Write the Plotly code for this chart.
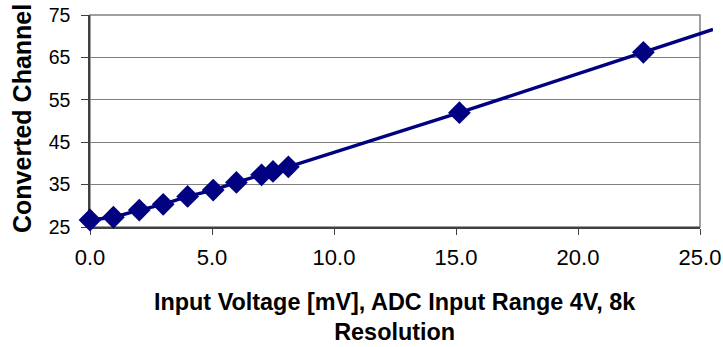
import plotly.graph_objects as go

# Data
voltage_mv = [0.0, 0.96, 2.02, 3.0, 4.0, 5.05, 6.0, 7.03, 7.5, 8.13, 15.14, 22.68]
channel = [26.65, 27.3, 29.0, 30.35, 32.2, 33.7, 35.5, 37.3, 38.1, 39.2, 51.96, 66.2]
x_ticks = [0, 5, 10, 15, 20, 25]
x_tick_labels = ["0.0", "5.0", "10.0", "15.0", "20.0", "25.0"]
y_ticks = [25, 35, 45, 55, 65, 75]

NAVY = "#000080"
FONT = "Liberation Sans, Arial, sans-serif"

W, H = 723, 347
L, R, T, B = 90, 10, 15, 120
full_w = W - L - R          # 623 px, the line may run a bit past the frame
plot_w = 610                # frame width
frac = plot_w / full_w
x_max = 25.0
x_ext = x_max / frac
plot_h = H - T - B

# extend the line past the last point with the slope of the last segment
slope = (channel[-1] - channel[-2]) / (voltage_mv[-1] - voltage_mv[-2])
line_x = voltage_mv + [x_ext]
line_y = channel + [channel[-1] + slope * (x_ext - voltage_mv[-1])]

fig = go.Figure()

# subplot 1: grid/axes only (invisible helper trace)
fig.add_trace(go.Scatter(x=[voltage_mv[0]], y=[channel[0]], mode="markers",
                         marker=dict(opacity=0), hoverinfo="skip",
                         xaxis="x", yaxis="y", showlegend=False))
# subplot 2: line (may run past the frame)
fig.add_trace(go.Scatter(x=line_x, y=line_y, mode="lines",
                         line=dict(color=NAVY, width=3.4),
                         xaxis="x2", yaxis="y2", showlegend=False))
# subplot 3: markers on top
fig.add_trace(go.Scatter(x=voltage_mv, y=channel, mode="markers",
                         marker=dict(symbol="diamond", size=17.5, color=NAVY,
                                     line=dict(width=0)),
                         cliponaxis=False,
                         xaxis="x3", yaxis="y3", showlegend=False))

fig.update_layout(
    width=W, height=H,
    margin=dict(l=L, r=R, t=T, b=B, autoexpand=False),
    paper_bgcolor="white",
    plot_bgcolor="rgba(0,0,0,0)",
    showlegend=False,
    font=dict(family=FONT, color="black"),
    xaxis=dict(domain=[0, frac], range=[0, x_max], tickmode="array",
               tickvals=x_ticks, ticktext=x_tick_labels,
               ticks="outside", ticklen=6, tickcolor="#404040", tickwidth=1,
               showline=True, linecolor="#404040", linewidth=1.5,
               showgrid=False, zeroline=False, automargin=False,
               ticklabelstandoff=4,
               tickfont=dict(size=22, family=FONT, color="black"),
               anchor="y", fixedrange=True),
    yaxis=dict(domain=[0, 1], range=[25, 75], tickmode="array",
               tickvals=y_ticks,
               ticks="outside", ticklen=7, tickcolor="#404040", tickwidth=1,
               showline=True, linecolor="#404040", linewidth=1.5,
               showgrid=True, gridcolor="#7f7f7f", gridwidth=1,
               zeroline=False, automargin=False,
               ticklabelstandoff=7,
               tickfont=dict(size=19.5, family=FONT, color="black"),
               anchor="x", fixedrange=True),
    xaxis2=dict(domain=[0, 1], range=[0, x_ext], visible=False, anchor="y2",
                automargin=False),
    yaxis2=dict(domain=[0, 1], range=[25, 75], visible=False, anchor="x2",
                automargin=False),
    xaxis3=dict(domain=[0, frac], range=[0, x_max], visible=False, anchor="y3",
                automargin=False),
    yaxis3=dict(domain=[0, 1], range=[25, 75], visible=False, anchor="x3",
                automargin=False),
    shapes=[dict(type="rect", xref="x domain", yref="y domain",
                 x0=0, x1=1, y0=0, y1=1,
                 line=dict(color="#808080", width=1.5), layer="below")],
    annotations=[
        dict(text="<b>Converted Channel</b>", textangle=-90,
             xref="paper", yref="paper",
             x=(22 - L) / full_w, y=(T + plot_h - 119) / plot_h,
             xanchor="center", yanchor="middle",
             showarrow=False, font=dict(size=25, family=FONT, color="black")),
        dict(text="<b>Input Voltage [mV], ADC Input Range 4V, 8k<br>Resolution</b>",
             xref="paper", yref="paper",
             x=frac / 2, y=-(317 - (T + plot_h)) / plot_h,
             xanchor="center", yanchor="middle",
             showarrow=False, font=dict(size=23.4, family=FONT, color="black")),
    ],
)

fig.write_html("out.html", config={"displayModeBar": False},
               post_script="document.body.style.margin='0';"
                           "document.body.style.overflow='hidden';")
